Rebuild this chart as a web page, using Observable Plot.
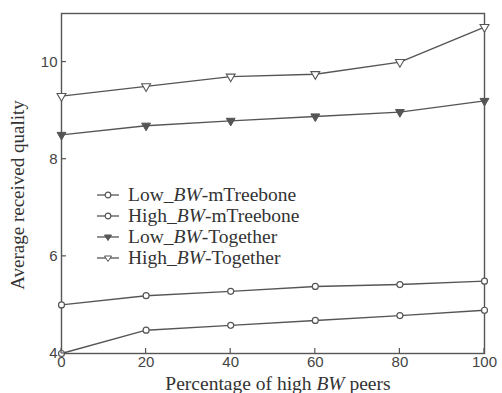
<!DOCTYPE html>
<html><head><meta charset="utf-8">
<script src="https://cdn.jsdelivr.net/npm/d3@7"></script>
<script src="https://cdn.jsdelivr.net/npm/@observablehq/plot@0.6"></script>
<style>
body{margin:0;background:#fff;}
#wrap{position:relative;width:502px;height:393px;overflow:hidden;}
#legend{position:absolute;left:97px;top:184px;font-family:"Liberation Serif","Times New Roman",serif;font-size:19.5px;color:#333;line-height:21px;}
#legend .row{display:flex;align-items:center;height:21px;}
#legend svg{margin-right:9px;}
</style></head>
<body><div id="wrap"><div id="legend"></div></div>
<script>
const xPercent = [0, 20, 40, 60, 80, 100];
const lowMTreebone = [4.0, 4.48, 4.58, 4.68, 4.78, 4.89];
const highMTreebone = [5.0, 5.19, 5.28, 5.38, 5.42, 5.49];
const lowTogether = [8.5, 8.69, 8.79, 8.88, 8.97, 9.2];
const highTogether = [9.3, 9.5, 9.7, 9.75, 10.0, 10.72];
const seriesNames = ["Low_BW-mTreebone", "High_BW-mTreebone", "Low_BW-Together", "High_BW-Together"];
const seriesValues = [lowMTreebone, highMTreebone, lowTogether, highTogether];
const xTicks = [0, 20, 40, 60, 80, 100];
const yTicks = [4, 6, 8, 10];

const col = "#555";
const data = [];
seriesNames.forEach((s, i) => xPercent.forEach((x, j) => data.push({series: s, x, y: seriesValues[i][j]})));
const circ = data.filter(d => d.series.includes("mTreebone"));
const triFilled = data.filter(d => d.series === "Low_BW-Together");
const triOpen = data.filter(d => d.series === "High_BW-Together");

const chart = Plot.plot({
  width: 502, height: 393,
  marginLeft: 61, marginRight: 18, marginTop: 13, marginBottom: 40,
  x: {domain: [0, 100], ticks: xTicks},
  y: {domain: [4, 11], ticks: yTicks},
  style: {fontFamily: "'Liberation Sans', Arial, sans-serif", fontSize: "15px", color: "#444", background: "#fff"},
  marks: [
    Plot.frame({stroke: col, strokeWidth: 1.4}),
    Plot.axisX({ticks: xTicks, tickSize: 0, tickPadding: 3, label: null, fontSize: 15, tickFormat: "d"}),
    Plot.axisY({ticks: yTicks, tickSize: 0, tickPadding: 4, label: null, fontSize: 15, tickFormat: "d"}),
    Plot.line(data, {x: "x", y: "y", z: "series", stroke: col, strokeWidth: 1.4}),
    Plot.dot(circ, {x: "x", y: "y", r: 3, stroke: col, fill: "white", strokeWidth: 1.2}),
    Plot.dot(triFilled, {x: "x", y: "y", symbol: "triangle", rotate: 180, r: 3.3, stroke: col, fill: col, strokeWidth: 1}),
    Plot.dot(triOpen, {x: "x", y: "y", symbol: "triangle", rotate: 180, r: 3.3, stroke: col, fill: "white", strokeWidth: 1.1})
  ]
});
const wrap = document.getElementById("wrap");
wrap.insertBefore(chart, wrap.firstChild);

const svg = d3.select(chart);
const sx = chart.scale("x"), sy = chart.scale("y");
const x0 = sx.apply(0), yb = sy.apply(4);
// inward ticks
const tg = svg.append("g").attr("stroke", col).attr("stroke-width", 1.2);
yTicks.forEach(v => { const y = sy.apply(v); tg.append("line").attr("x1", x0).attr("x2", x0 + 5).attr("y1", y).attr("y2", y); });
xTicks.forEach(v => { const x = sx.apply(v); tg.append("line").attr("x1", x).attr("x2", x).attr("y1", yb).attr("y2", yb - 5); });

// axis titles (serif, with italic BW)
svg.append("text").attr("transform", "translate(24,195) rotate(-90)")
  .attr("text-anchor", "middle").attr("font-family", "'Liberation Serif', serif")
  .attr("font-size", 19).attr("fill", "#333").text("Average received quality");
const xt = svg.append("text").attr("x", 278).attr("y", 390)
  .attr("text-anchor", "middle").attr("font-family", "'Liberation Serif', serif")
  .attr("font-size", 19.5).attr("fill", "#333");
xt.append("tspan").text("Percentage of high ");
xt.append("tspan").attr("font-style", "italic").text("BW");
xt.append("tspan").text(" peers");

// legend
const leg = document.getElementById("legend");
seriesNames.forEach((s, i) => {
  const row = document.createElement("div"); row.className = "row";
  let sym;
  if (i < 2) sym = `<circle cx="11" cy="6" r="2.8" fill="white" stroke="${col}" stroke-width="1.2"/>`;
  else sym = `<path d="M7.5,4 L14.5,4 L11,9.5 Z" fill="${i===2?col:'white'}" stroke="${col}" stroke-width="1"/>`;
  const [a, b] = s.split("BW");
  row.innerHTML = `<svg width="22" height="12"><line x1="0" y1="6" x2="22" y2="6" stroke="${col}" stroke-width="1.3"/>${sym}</svg><span>${a}<i>BW</i>${b}</span>`;
  leg.appendChild(row);
});
</script></body></html>
